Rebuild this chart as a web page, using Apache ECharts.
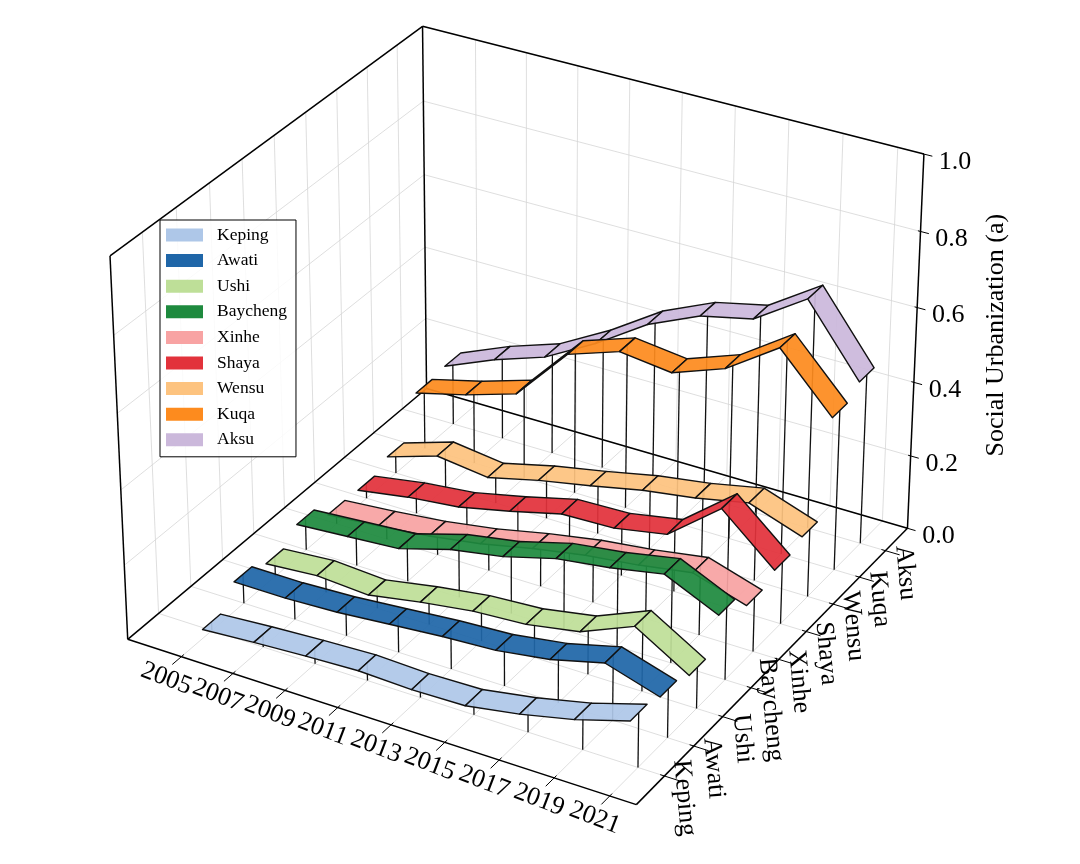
<!DOCTYPE html>
<html>
<head>
<meta charset="utf-8">
<script src="https://cdn.jsdelivr.net/npm/echarts@6/dist/echarts.min.js"></script>
<style>
  html, body { margin: 0; padding: 0; background: #fff; }
  #chart { width: 1080px; height: 864px; }
</style>
</head>
<body>
<div id="chart"></div>
<script>
// data (years every 2, one ribbon per county)
var years = [2005, 2007, 2009, 2011, 2013, 2015, 2017, 2019, 2021];
var regions = ['Keping', 'Awati', 'Ushi', 'Baycheng', 'Xinhe', 'Shaya', 'Wensu', 'Kuqa', 'Aksu'];
var keping   = [0.024, 0.034, 0.042, 0.048, 0.043, 0.046, 0.070, 0.102, 0.145];
var awati    = [0.079, 0.079, 0.085, 0.097, 0.109, 0.117, 0.138, 0.174, 0.130];
var ushi     = [0.055, 0.066, 0.057, 0.082, 0.102, 0.111, 0.136, 0.195, 0.110];
var baycheng = [0.090, 0.100, 0.110, 0.151, 0.175, 0.213, 0.232, 0.259, 0.194];
var xinhe    = [0.045, 0.057, 0.072, 0.094, 0.124, 0.149, 0.166, 0.189, 0.145];
var shaya    = [0.042, 0.065, 0.080, 0.111, 0.146, 0.150, 0.176, 0.288, 0.166];
var wensu    = [0.065, 0.109, 0.091, 0.125, 0.152, 0.182, 0.203, 0.232, 0.183];
var kuqa     = [0.175, 0.210, 0.253, 0.401, 0.448, 0.431, 0.482, 0.577, 0.432];
var aksu     = [0.182, 0.240, 0.287, 0.364, 0.455, 0.517, 0.548, 0.640, 0.459];
var zTicks = [0, 0.2, 0.4, 0.6, 0.8, 1.0];
var zTitle = 'Social Urbanization (a)';

var values = [keping, awati, ushi, baycheng, xinhe, shaya, wensu, kuqa, aksu];
var colors = ['#aec7e8', '#1f66a8', '#bedf98', '#1e8a3e', '#f8a3a3',
              '#e2323b', '#fdc37f', '#fd8b1e', '#cbb8db'];

// 3d box + camera (same idea as a matplotlib 3d axes: elev 30, azim -60)
var xLim = [2002.9, 2021.95], yLim = [-0.94, 8.86], zLim = [0, 1];
var elev = 30, azim = -60, dist = 10;
var boxAspect = [4, 4, 3];
var scale = 5100, cx = 524.5, cy = 397.5;
var halfWidth = 0.28;
var font = 'Liberation Serif';

function dot(a, b) { return a[0] * b[0] + a[1] * b[1] + a[2] * b[2]; }
function cross(a, b) {
  return [a[1] * b[2] - a[2] * b[1], a[2] * b[0] - a[0] * b[2], a[0] * b[1] - a[1] * b[0]];
}
var norm = Math.sqrt(dot(boxAspect, boxAspect));
var A = boxAspect.map(function(v) { return v * 1.8294640721620434 / norm; });
var er = elev * Math.PI / 180, ar = azim * Math.PI / 180;
var wv = [Math.cos(er) * Math.cos(ar), Math.cos(er) * Math.sin(ar), Math.sin(er)];
var uv = cross([0, 0, 1], wv);
var ul = Math.sqrt(dot(uv, uv));
uv = uv.map(function(v) { return v / ul; });
var vv = cross(wv, uv);

function toBox(x, y, z) {
  return [
    (x - xLim[0]) / (xLim[1] - xLim[0]) * A[0] - A[0] / 2,
    (y - yLim[0]) / (yLim[1] - yLim[0]) * A[1] - A[1] / 2,
    (z - zLim[0]) / (zLim[1] - zLim[0]) * A[2] - A[2] / 2
  ];
}
// projected plane coords, fed to the hidden cartesian axes
function proj(x, y, z) {
  var q = toBox(x, y, z);
  var d = dist - dot(wv, q);
  return [dot(uv, q) / d, dot(vv, q) / d];
}
function depth(x, y, z) { return dot(wv, toBox(x, y, z)); }

// ribbon series data: lines first, then segments far to near
function ribbonData(i) {
  var v = values[i];
  var lines = [], segs = [];
  for (var j = 0; j < years.length; j++) {
    lines.push([1, years[j], years[j], i, v[j], 0]);
  }
  for (var k = 0; k < years.length - 1; k++) {
    var dep = (depth(years[k], i, v[k]) + depth(years[k + 1], i, v[k + 1])) / 2;
    segs.push({ d: dep, item: [0, years[k], years[k + 1], i, v[k], v[k + 1]] });
  }
  segs.sort(function(a, b) { return a.d - b.d; });
  return lines.concat(segs.map(function(s) { return s.item; }));
}

function rgba(hex, a) {
  var n = parseInt(hex.slice(1), 16);
  return 'rgba(' + (n >> 16) + ',' + ((n >> 8) & 255) + ',' + (n & 255) + ',' + a + ')';
}

function ribbonRender(color) {
  return function(params, api) {
    var kind = api.value(0);
    var x0 = api.value(1), x1 = api.value(2), y = api.value(3);
    var z0 = api.value(4), z1 = api.value(5);
    if (kind === 1) {
      var top = api.coord(proj(x0, y, z0)), bot = api.coord(proj(x0, y, 0));
      return {
        type: 'line',
        shape: { x1: top[0], y1: top[1], x2: bot[0], y2: bot[1] },
        style: { stroke: '#111', lineWidth: 1.3 }
      };
    }
    var pts = [
      [x0, y - halfWidth, z0], [x1, y - halfWidth, z1],
      [x1, y + halfWidth, z1], [x0, y + halfWidth, z0]
    ].map(function(p) { return api.coord(proj(p[0], p[1], p[2])); });
    return {
      type: 'polygon',
      shape: { points: pts },
      style: { fill: rgba(color, 0.93), stroke: '#111', lineWidth: 1.4, lineJoin: 'round' }
    };
  };
}

// axes box, grid, ticks and labels
function frameRender(params, api) {
  var kids = [];
  function seg(p, q, stroke, lw) {
    var a = api.coord(proj(p[0], p[1], p[2])), b = api.coord(proj(q[0], q[1], q[2]));
    kids.push({ type: 'line', shape: { x1: a[0], y1: a[1], x2: b[0], y2: b[1] },
      style: { stroke: stroke, lineWidth: lw } });
  }
  function label(p, dx, dy, text, rot, size) {
    var a = api.coord(proj(p[0], p[1], p[2]));
    kids.push({ type: 'text', x: a[0] + dx, y: a[1] + dy, rotation: rot,
      style: { text: text, fill: '#000', fontFamily: font, fontSize: size,
        align: 'center', verticalAlign: 'middle' } });
  }
  var X0 = xLim[0], X1 = xLim[1], Y0 = yLim[0], Y1 = yLim[1];
  var xr = X1 - X0, yr = Y1 - Y0;
  var gc = '#d6d6d6', gw = 0.8;
  years.forEach(function(x) {
    seg([x, Y0, 0], [x, Y1, 0], gc, gw);
    seg([x, Y1, 0], [x, Y1, 1], gc, gw);
  });
  regions.forEach(function(r, i) {
    seg([X0, i, 0], [X1, i, 0], gc, gw);
    seg([X0, i, 0], [X0, i, 1], gc, gw);
  });
  zTicks.forEach(function(z) {
    seg([X0, Y1, z], [X1, Y1, z], gc, gw);
    seg([X0, Y0, z], [X0, Y1, z], gc, gw);
  });
  var edges = [
    [[X0, Y0, 0], [X1, Y0, 0]], [[X1, Y0, 0], [X1, Y1, 0]],
    [[X1, Y1, 0], [X0, Y1, 0]], [[X0, Y1, 0], [X0, Y0, 0]],
    [[X0, Y0, 0], [X0, Y0, 1]], [[X0, Y1, 0], [X0, Y1, 1]],
    [[X1, Y1, 0], [X1, Y1, 1]], [[X0, Y0, 1], [X0, Y1, 1]],
    [[X0, Y1, 1], [X1, Y1, 1]]
  ];
  edges.forEach(function(e) { seg(e[0], e[1], '#000', 1.5); });
  years.forEach(function(x) {
    seg([x, Y0 + 0.008 * yr, 0], [x, Y0 - 0.028 * yr, 0], '#000', 1);
    label([x, Y0, 0], -15, 22, String(x), -21 * Math.PI / 180, 26);
  });
  regions.forEach(function(r, i) {
    seg([X1 - 0.008 * xr, i, 0], [X1 + 0.028 * xr, i, 0], '#000', 1);
    label([X1, i, 0], 20, 22, r, -85 * Math.PI / 180, 26);
  });
  zTicks.forEach(function(z) {
    seg([X1 - 0.005 * xr, Y1, z], [X1 + 0.016 * xr, Y1, z], '#000', 1);
    label([X1, Y1, z], 31, 8, z.toFixed(1), 0, 26);
  });
  label([X1, Y1, 0.5], 81, -10, zTitle, Math.PI / 2, 26);
  return { type: 'group', children: kids };
}

var series = [{
  type: 'custom',
  name: 'frame',
  coordinateSystem: 'cartesian2d',
  renderItem: frameRender,
  data: [[0, 0]],
  silent: true,
  z: 1
}];
for (var i = regions.length - 1; i >= 0; i--) {
  series.push({
    type: 'custom',
    name: regions[i],
    coordinateSystem: 'cartesian2d',
    renderItem: ribbonRender(colors[i]),
    itemStyle: { color: colors[i] },
    data: ribbonData(i),
    z: 2
  });
}

var chart = echarts.init(document.getElementById('chart'));
chart.setOption({
  animation: false,
  backgroundColor: '#fff',
  grid: { left: 0, right: 0, top: 0, bottom: 0 },
  xAxis: { type: 'value', min: -cx / scale, max: (1080 - cx) / scale, show: false },
  yAxis: { type: 'value', min: (cy - 864) / scale, max: cy / scale, show: false },
  legend: {
    data: regions,
    orient: 'vertical',
    left: 160,
    top: 220,
    icon: 'rect',
    itemWidth: 37,
    itemHeight: 13,
    itemGap: 7.6,
    selectedMode: false,
    padding: [6, 9, 8, 6],
    borderColor: '#000',
    borderWidth: 1,
    borderRadius: 0,
    backgroundColor: 'rgba(255,255,255,0.85)',
    itemStyle: { borderWidth: 0 },
    textStyle: { fontFamily: font, fontSize: 17.5, lineHeight: 16, color: '#000', padding: [0, 0, 0, 9] }
  },
  series: series
});
</script>
</body>
</html>
